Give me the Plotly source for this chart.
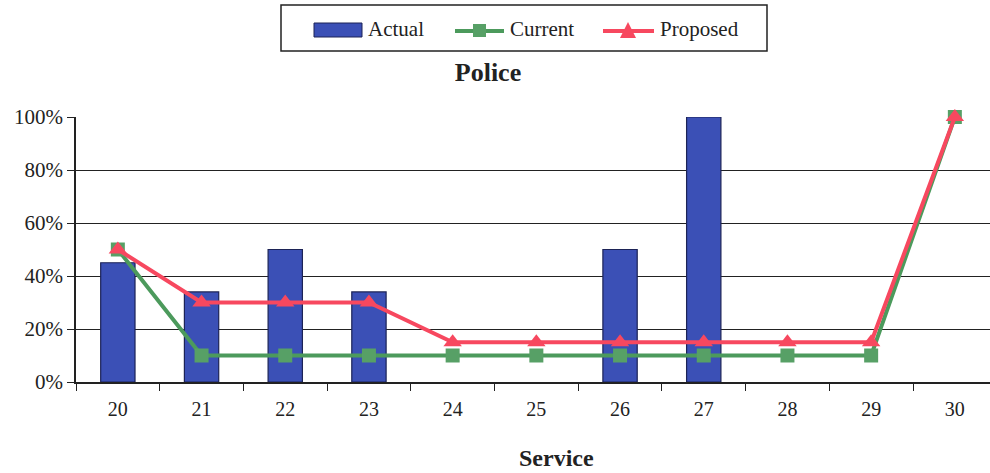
import plotly.graph_objects as go

# Service categories and rates (fractions)
services = ["20", "21", "22", "23", "24", "25", "26", "27", "28", "29", "30"]
actual = [0.45, 0.34, 0.50, 0.34, 0, 0, 0.50, 1.00, 0, 0, 0]
current = [0.50, 0.10, 0.10, 0.10, 0.10, 0.10, 0.10, 0.10, 0.10, 0.10, 1.00]
proposed = [0.50, 0.30, 0.30, 0.30, 0.15, 0.15, 0.15, 0.15, 0.15, 0.15, 1.00]
y_ticks = [0, 0.2, 0.4, 0.6, 0.8, 1.0]
y_labels = ["0%", "20%", "40%", "60%", "80%", "100%"]

SERIF = "Liberation Serif, Times New Roman, serif"
INK = "#222222"
BAR_FILL, BAR_EDGE = "#3B50B6", "#1C2356"
GREEN, GREEN_MK = "#4C9A5C", "#57A066"
RED = "#F7485F"

W, H = 990, 473
M_L, M_R, M_T, M_B = 76, 0, 117, 91
PLOT_W = W - M_L - M_R
PLOT_H = H - M_T - M_B


def px_x(px):
    """Convert a pixel column to paper x."""
    return (px - M_L) / PLOT_W


def px_y(py):
    """Convert a pixel row to paper y."""
    return (H - M_B - py) / PLOT_H


fig = go.Figure()
fig.add_trace(go.Bar(
    x=services, y=actual, name="Actual",
    marker=dict(color=BAR_FILL,
                line=dict(color=BAR_EDGE, width=[1.2 if v > 0 else 0 for v in actual])),
    width=0.41,
))
fig.add_trace(go.Scatter(
    x=services, y=current, name="Current", mode="lines+markers",
    line=dict(color=GREEN, width=4),
    marker=dict(symbol="square", size=14, color=GREEN_MK),
    cliponaxis=False,
))
fig.add_trace(go.Scatter(
    x=services, y=proposed, name="Proposed", mode="lines+markers",
    line=dict(color=RED, width=4),
    marker=dict(symbol="triangle-up", size=16, color=RED),
    cliponaxis=False,
))

fig.update_layout(
    width=W, height=H,
    margin=dict(l=M_L, r=M_R, t=M_T, b=M_B),
    paper_bgcolor="white", plot_bgcolor="white",
    font=dict(family=SERIF, size=20, color=INK),
    showlegend=False,
    title=dict(
        text="<b>Police</b>", xref="container", yref="container",
        x=488 / W, xanchor="center", y=1 - 72 / H, yanchor="middle",
        font=dict(family=SERIF, size=26, color=INK),
    ),
)

fig.update_xaxes(
    type="category", range=[-0.5, 10.42],
    showline=True, linecolor=INK, linewidth=1.5,
    ticks="outside", tickson="boundaries", ticklen=7, tickcolor=INK,
    ticklabelstandoff=8,
    showgrid=False, tickfont=dict(family=SERIF, size=20, color=INK),
)
fig.update_yaxes(
    range=[0, 1.0], tickvals=y_ticks, ticktext=y_labels,
    showline=True, linecolor=INK, linewidth=1.5,
    ticks="outside", ticklen=7, tickcolor=INK,
    showgrid=True, gridcolor=INK, gridwidth=1.2,
    zeroline=False, tickfont=dict(family=SERIF, size=21, color=INK),
)

fig.add_annotation(
    text="<b>Service</b>", xref="paper", yref="paper",
    x=px_x(556), y=px_y(458), xanchor="center", yanchor="middle",
    showarrow=False, font=dict(family=SERIF, size=24, color=INK),
)

# Legend box drawn by hand so the swatches keep their wide proportions
shapes = [
    dict(type="rect", xref="paper", yref="paper",
         x0=px_x(281), x1=px_x(767), y0=px_y(5), y1=px_y(51),
         line=dict(color=INK, width=1.5), fillcolor="white"),
    # Actual swatch
    dict(type="rect", xref="paper", yref="paper",
         x0=px_x(314), x1=px_x(362), y0=px_y(23), y1=px_y(37),
         line=dict(color=BAR_EDGE, width=1), fillcolor=BAR_FILL),
    # Current line + square
    dict(type="line", xref="paper", yref="paper",
         x0=px_x(455), x1=px_x(504), y0=px_y(31), y1=px_y(31),
         line=dict(color=GREEN, width=4)),
    dict(type="rect", xref="paper", yref="paper",
         x0=px_x(473), x1=px_x(486), y0=px_y(24), y1=px_y(37),
         line=dict(width=0), fillcolor=GREEN_MK),
    # Proposed line + triangle
    dict(type="line", xref="paper", yref="paper",
         x0=px_x(603), x1=px_x(654), y0=px_y(31), y1=px_y(31),
         line=dict(color=RED, width=4)),
    dict(type="path", xref="paper", yref="paper",
         path="M {},{} L {},{} L {},{} Z".format(
             px_x(620), px_y(38), px_x(636), px_y(38), px_x(628), px_y(22)),
         line=dict(width=0), fillcolor=RED),
]
fig.update_layout(shapes=shapes)

for label, left in [("Actual", 366), ("Current", 508), ("Proposed", 658)]:
    fig.add_annotation(
        text=label, xref="paper", yref="paper",
        x=px_x(left), y=px_y(29), xanchor="left", yanchor="middle",
        showarrow=False, font=dict(family=SERIF, size=21, color=INK),
    )

fig.write_html("out.html")
